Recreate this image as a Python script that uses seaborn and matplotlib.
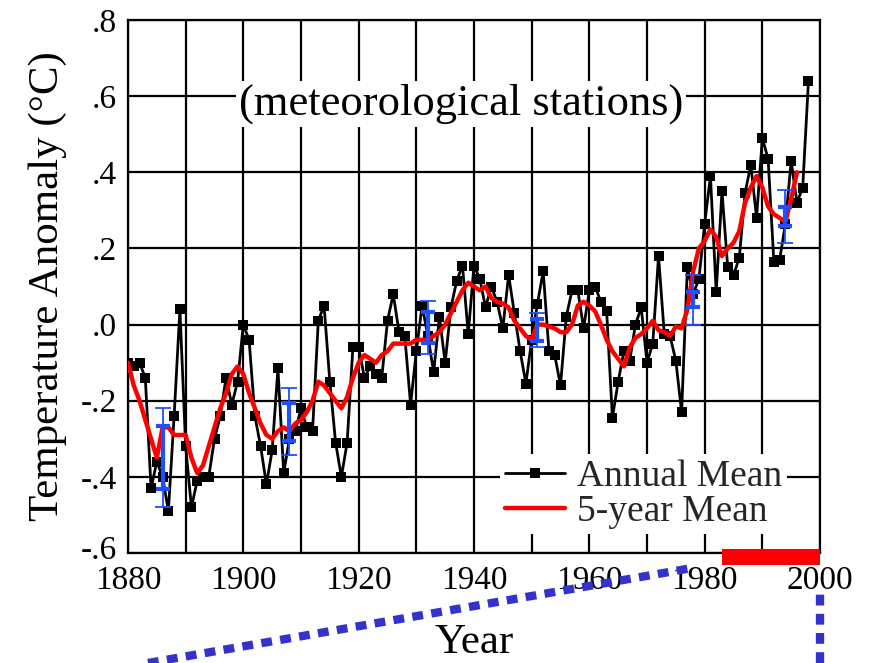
import numpy as np
import pandas as pd
import matplotlib
matplotlib.use("Agg")
import matplotlib.pyplot as plt
from matplotlib.lines import Line2D
from matplotlib.patches import Rectangle
import matplotlib.transforms as mtransforms
import seaborn as sns

# Annual mean temperature anomaly (deg C), meteorological stations, 1880-1998
years = list(range(1880, 1999))
annual_mean = [
    -0.10, -0.11, -0.10, -0.14, -0.43, -0.36, -0.40, -0.49, -0.24, 0.04,
    -0.32, -0.48, -0.41, -0.40, -0.40, -0.30, -0.24, -0.14, -0.21, -0.15,
    0.00, -0.04, -0.24, -0.32, -0.42, -0.33, -0.115, -0.39, -0.30, -0.28,
    -0.22, -0.27, -0.28, 0.01, 0.05, -0.15, -0.31, -0.40, -0.31, -0.06,
    -0.06, -0.14, -0.11, -0.13, -0.14, 0.01, 0.08, -0.02, -0.03, -0.21,
    -0.07, 0.05, -0.03, -0.125, 0.02, -0.10, 0.045, 0.115, 0.155, -0.025,
    0.155, 0.12, 0.045, 0.10, 0.06, -0.01, 0.13, 0.03, -0.07, -0.155,
    -0.04, 0.055, 0.14, -0.07, -0.08, -0.16, 0.02, 0.09, 0.09, -0.01,
    0.09, 0.10, 0.06, 0.035, -0.245, -0.15, -0.07, -0.095, 0.00, 0.045,
    -0.10, -0.05, 0.18, -0.025, -0.03, -0.095, -0.23, 0.15, 0.08, 0.12,
    0.265, 0.39, 0.085, 0.35, 0.15, 0.13, 0.175, 0.345, 0.42, 0.28,
    0.49, 0.435, 0.165, 0.17, 0.265, 0.43, 0.32, 0.36, 0.64,
]

# 5-year running mean, 1880-1996
mean5_years = list(range(1880, 1997))
mean5 = [
    -0.10, -0.16, -0.20, -0.25, -0.30, -0.35, -0.27, -0.27, -0.29, -0.29,
    -0.29, -0.35, -0.39, -0.37, -0.32, -0.27, -0.22, -0.18, -0.13, -0.11,
    -0.13, -0.18, -0.22, -0.26, -0.29, -0.30, -0.28, -0.27, -0.28, -0.26,
    -0.25, -0.23, -0.20, -0.15, -0.16, -0.18, -0.20, -0.22, -0.19, -0.14,
    -0.10, -0.08, -0.09, -0.10, -0.08, -0.07, -0.05, -0.05, -0.05, -0.05,
    -0.04, -0.04, -0.04, -0.03, -0.02, 0.00, 0.03, 0.06, 0.09, 0.11,
    0.10, 0.09, 0.10, 0.07, 0.06, 0.055, 0.045, 0.01, -0.01, -0.03,
    -0.04, 0.00, 0.00, -0.005, -0.01, -0.02, -0.02, 0.00, 0.05, 0.06,
    0.05, 0.035, 0.00, -0.04, -0.07, -0.09, -0.11, -0.06, -0.035, -0.025,
    -0.01, 0.01, -0.015, -0.02, -0.03, -0.005, -0.01, 0.04, 0.14, 0.20,
    0.22, 0.25, 0.23, 0.18, 0.20, 0.215, 0.245, 0.32, 0.36, 0.39,
    0.36, 0.31, 0.29, 0.28, 0.27, 0.33, 0.40,
]

# Uncertainty estimates (two-level error bars)
err_years = [1886, 1908, 1932, 1951, 1978, 1994]
err_center = [-0.35, -0.255, -0.008, -0.014, 0.065, 0.284]
err_outer = [0.13, 0.088, 0.069, 0.045, 0.065, 0.07]
err_inner = [0.083, 0.05, 0.04, 0.028, 0.02, 0.024]

# Highlighted recent period on the time axis
highlight_years = [1983, 2000]

x_ticks = [1880, 1900, 1920, 1940, 1960, 1980, 2000]
x_ticklabels = ["1880", "1900", "1920", "1940", "1960", "1980", "2000"]
y_ticks = [-0.6, -0.4, -0.2, 0.0, 0.2, 0.4, 0.6, 0.8]
y_ticklabels = ["-.6", "-.4", "-.2", ".0", ".2", ".4", ".6", ".8"]

sns.set_theme(style="white")
plt.rcParams["font.family"] = ["Liberation Serif", "DejaVu Serif"]
plt.rcParams["axes.unicode_minus"] = False

fig = plt.figure(figsize=(8.73, 6.63), dpi=100)
ax = fig.add_axes([128 / 873, 1 - 553 / 663, 692 / 873, 533 / 663])

annual_df = pd.DataFrame({"Year": years, "Anomaly": annual_mean})
mean_df = pd.DataFrame({"Year": mean5_years, "Anomaly": mean5})

sns.lineplot(data=annual_df, x="Year", y="Anomaly", ax=ax, color="black",
             linewidth=2.0, marker="s", markersize=6.5, markeredgewidth=0,
             label="Annual Mean", zorder=3)
sns.lineplot(data=mean_df, x="Year", y="Anomaly", ax=ax, color="#ff0000",
             linewidth=3.2, label="5-year Mean", zorder=4)

blue = "#1f4fff"
ax.errorbar(err_years, err_center, yerr=err_outer, fmt="none", ecolor=blue,
            elinewidth=1.3, capsize=6, capthick=1.3, zorder=5)
ax.errorbar(err_years, err_center, yerr=err_inner, fmt="none", ecolor=blue,
            elinewidth=3.0, capsize=5, capthick=3.0, zorder=6)

ax.set_xlim(1880, 2000)
ax.set_ylim(-0.6, 0.8)
ax.set_xticks(x_ticks)
ax.set_xticklabels(x_ticklabels)
ax.set_yticks(y_ticks)
ax.set_yticklabels(y_ticklabels)
ax.set_xticks(np.arange(1890, 2000, 20), minor=True)
ax.grid(True, which="both", color="black", linewidth=1.6, zorder=0)
ax.set_axisbelow(True)
ax.tick_params(axis="both", which="both", length=0, labelsize=24,
               colors="black")
ax.tick_params(axis="x", pad=9)
ax.tick_params(axis="y", pad=8)
for s in ax.spines.values():
    s.set_color("black")
    s.set_linewidth(1.6)

# Lift the bottom y label a little so it sits above the year labels
bottom_label = ax.get_yticklabels()[0]
bottom_label.set_transform(bottom_label.get_transform()
                           + mtransforms.ScaledTranslation(0, 6 / 100,
                                                           fig.dpi_scale_trans))

ax.set_xlabel("Year", fontsize=31, color="black", labelpad=20)
ax.set_ylabel("Temperature Anomaly (\u00b0C)", fontsize=31, color="black",
              labelpad=10)

ax.text(1937.8, 0.58, "(meteorological stations)", fontsize=32,
        ha="center", va="center", color="black", zorder=7,
        bbox=dict(facecolor="white", edgecolor="none", pad=2))

leg = ax.legend(loc="lower right", bbox_to_anchor=(0.98, 0.0), fontsize=27,
                frameon=True, facecolor="white", edgecolor="none",
                framealpha=1, handlelength=1.6, handletextpad=0.3,
                borderpad=0.15, labelspacing=0.0, fancybox=False)
leg.set_zorder(8)
leg.get_frame().set_linewidth(0)

# Red bar marking the recent period along the time axis
trans = mtransforms.blended_transform_factory(ax.transData, fig.transFigure)
ax.add_patch(Rectangle((highlight_years[0], 1 - 565 / 663),
                       highlight_years[1] - highlight_years[0], 16 / 663,
                       transform=trans, facecolor="#ff0000",
                       edgecolor="none", clip_on=False, zorder=9))

# Dotted connector lines below the axes
dot_kw = dict(color="#3333cc", linewidth=6, linestyle=(0, (1.3, 1.0)),
              dash_capstyle="butt", transform=fig.transFigure)
fig.add_artist(Line2D([148 / 873, 692 / 873], [1 - 663 / 663, 1 - 568 / 663],
                      **dot_kw))
fig.add_artist(Line2D([820 / 873, 820 / 873], [1 - 663 / 663, 1 - 590 / 663],
                      **dot_kw))

fig.savefig("out.png", dpi=100, facecolor="white")
